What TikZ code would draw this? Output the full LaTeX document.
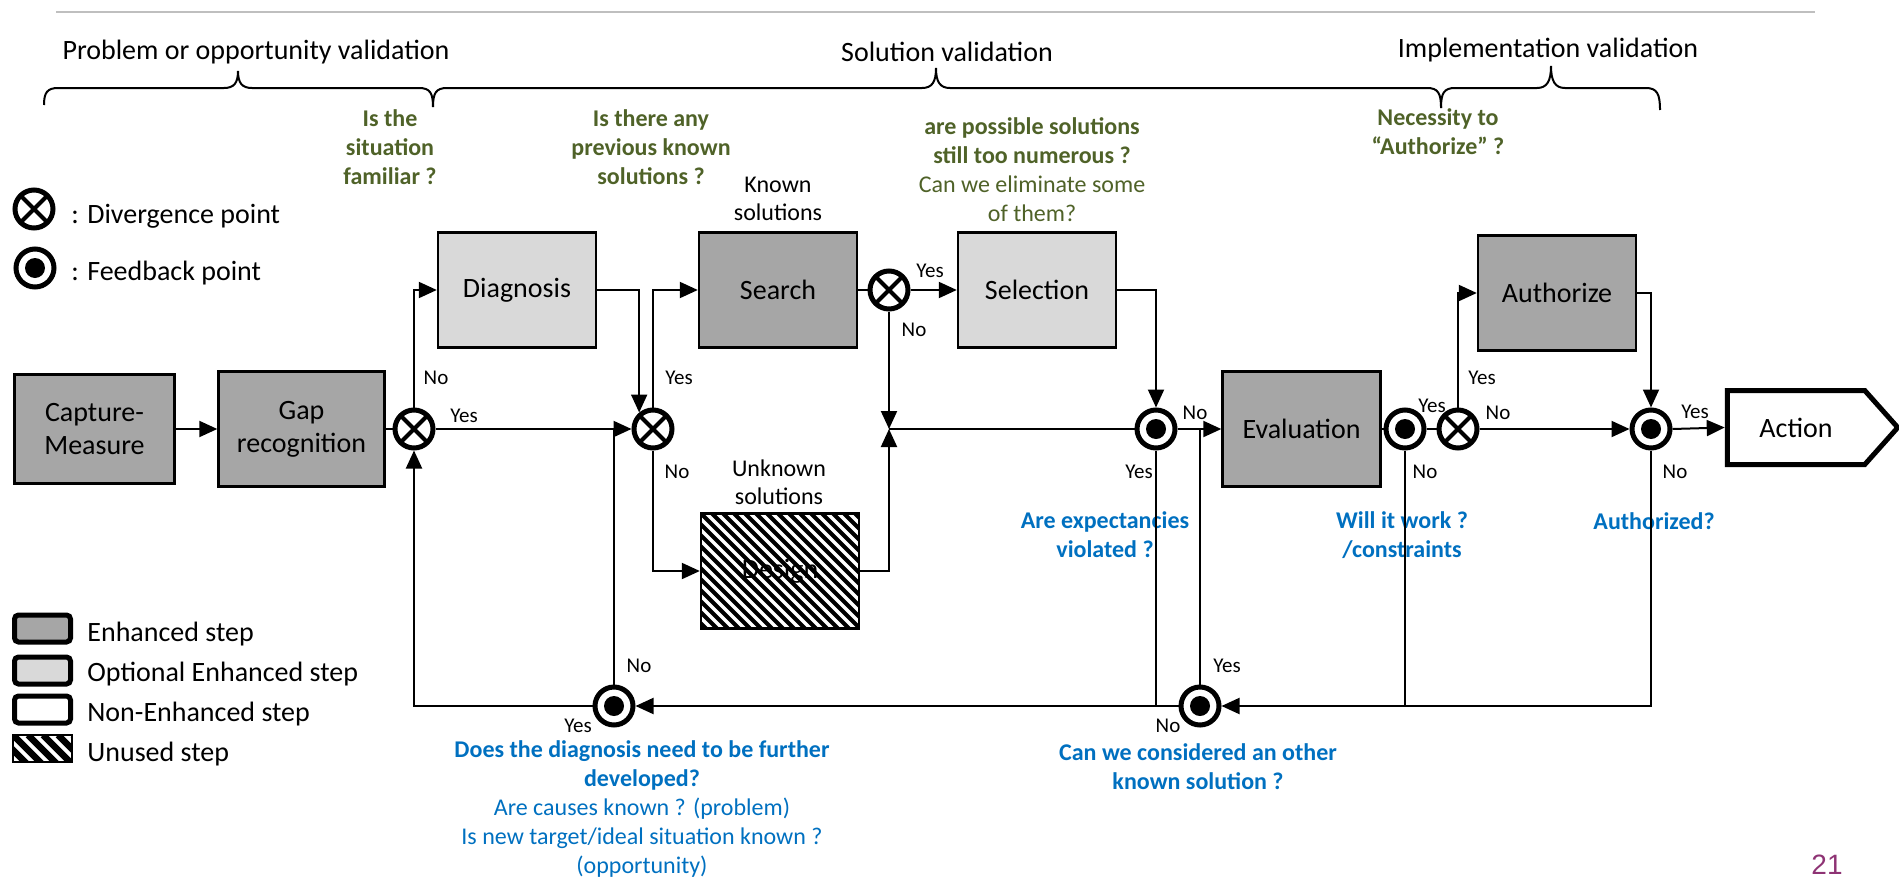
\documentclass[tikz,border=0pt]{standalone}
\usepackage{fontspec}
\setmainfont{Carlito}
\newfontfamily\numfont{Liberation Sans}
\usetikzlibrary{arrows.meta}
\definecolor{qgreen}{HTML}{4F6228}
\definecolor{qblue}{HTML}{0070C0}
\definecolor{enhgray}{HTML}{A6A6A6}
\definecolor{optgray}{HTML}{D9D9D9}
\definecolor{pagepurple}{HTML}{8E3374}
\definecolor{rulegray}{HTML}{BFBFBF}
\begin{document}
\begin{tikzpicture}[x=0.5pt,y=-0.5pt,
  box/.style={draw, line width=1.2pt, inner sep=0pt, align=center, font=\fontsize{14}{16.5}\selectfont},
  stdbox/.style={box, minimum width=79pt, minimum height=57.5pt},
  enhbox/.style={stdbox, fill=enhgray},
  optbox/.style={stdbox, fill=optgray},
  stripe/.style={black, line width=2.1pt},
  div/.style={circle, draw, line width=2.5pt, fill=white, minimum size=19pt, inner sep=0pt, path picture={
      \draw[black, line width=2pt] ([shift={(45:12pt)}]path picture bounding box.center) -- ([shift={(225:12pt)}]path picture bounding box.center)
                            ([shift={(135:12pt)}]path picture bounding box.center) -- ([shift={(-45:12pt)}]path picture bounding box.center);}},
  fb/.style={circle, draw, line width=2.5pt, fill=white, minimum size=19pt, inner sep=0pt, path picture={
      \fill[black] (path picture bounding box.center) circle (5pt);}},
  conn/.style={line width=1pt},
  arr/.style={conn, -{Triangle[length=9pt,width=8pt]}},
  yn/.style={font=\fontsize{10.5}{12}\selectfont, inner sep=0pt},
  qg/.style={text=qgreen, align=center, font=\fontsize{12}{14.5}\selectfont\bfseries, inner sep=0pt},
  qb/.style={text=qblue, align=center, font=\fontsize{12}{14.5}\selectfont, inner sep=0pt},
  plain/.style={align=center, font=\fontsize{12}{14}\selectfont, inner sep=0pt},
  hdr/.style={font=\fontsize{14}{17}\selectfont, inner sep=0pt},
  legtxt/.style={anchor=base west, font=\fontsize{14}{17}\selectfont, inner sep=0pt},
  legbox/.style={draw, line width=2.5pt, rounded corners=2pt, minimum width=28pt, minimum height=13.5pt, inner sep=0pt},
  brace/.style={line width=1pt}
]
\useasboundingbox (0,0) rectangle (1899,878);

% top rule
\draw[rulegray, line width=1pt] (56,12) -- (1815,12);

% headers and braces
\node[hdr] (h1) at (256,52) {Problem or opportunity validation};
\node[hdr] (h2) at (947,52) {Solution validation};
\node[hdr] (h3) at (1548,50) {Implementation validation};
\draw[brace] (44,105) .. controls (44,93) and (47,88) .. (58,88) -- (224,88) .. controls (234,88) and (238,83) .. (238,71) .. controls (238,83) and (242,88) .. (252,88) -- (419,88) .. controls (430,88) and (433,93) .. (433,107);
\draw[brace] (433,107) .. controls (433,93) and (436,88) .. (447,88) -- (922,88) .. controls (932,88) and (936,82) .. (936,68) .. controls (936,82) and (940,88) .. (950,88) -- (1427,88) .. controls (1438,88) and (1441,93) .. (1441,108);
\draw[brace] (1441,108) .. controls (1441,93) and (1444,88) .. (1455,88) -- (1537,88) .. controls (1547,88) and (1551,81) .. (1551,66) .. controls (1551,81) and (1555,88) .. (1565,88) -- (1646,88) .. controls (1657,88) and (1660,94) .. (1660,110);

% green questions
\node[qg] (q1) at (390,147) {Is the\\situation\\familiar ?};
\node[qg] (q2) at (651,147) {Is there any\\previous known\\solutions ?};
\node[qg] (q3) at (1032,170) {are possible solutions\\still too numerous ?\\{\mdseries Can we eliminate some}\\{\mdseries of them?}};
\node[qg] (q4) at (1438,132) {Necessity to\\“Authorize” ?};

% black small texts
\node[plain] (known) at (778,199) {Known\\solutions};
\node[plain] (unknown) at (779,482) {Unknown\\solutions};

% blue questions
\node[qb] (b1) at (642,809) {\textbf{Does the diagnosis need to be further}\\\textbf{developed?}\\Are causes known ? (problem)\\Is new target/ideal situation known ?\\(opportunity)};
\node[qb, font=\fontsize{12}{14.5}\selectfont\bfseries] (b2) at (1198,767) {Can we considered an other\\known solution ?};
\node[qb, font=\fontsize{12}{14.5}\selectfont\bfseries] (b3) at (1105,535) {Are expectancies\\violated ?};
\node[qb, font=\fontsize{12}{14.5}\selectfont\bfseries] (b4) at (1402,535) {Will it work ?\\/constraints};
\node[qb, font=\fontsize{12}{14.5}\selectfont\bfseries] (b5) at (1654,521) {Authorized?};

% legend
\node[div] (legdiv) at (34,209) {};
\node[fb] (legfb) at (35,268) {};
\node[legtxt] (legdivt) at (71,223) {: Divergence point};
\node[legtxt] (legfbt) at (71,280) {: Feedback point};
\node[legbox, fill=enhgray] (lg1) at (42.5,628.5) {};
\node[legbox, fill=optgray] (lg2) at (42.5,670.5) {};
\node[legbox, fill=white] (lg3) at (42.5,709.5) {};
\begin{scope}
  \clip (13,735) rectangle (72,762);
  \foreach \i in {-3,...,5}{\draw[stripe, line width=3.2pt] ({13+\i*15},735) -- ++(30,30);}
\end{scope}
\node[draw, line width=0.6pt, minimum width=29.5pt, minimum height=13.5pt, inner sep=0pt] (lg4) at (42.5,748.5) {};
\node[legtxt] (lg1t) at (87,641) {Enhanced step};
\node[legtxt] (lg2t) at (87,681) {Optional Enhanced step};
\node[legtxt] (lg3t) at (87,721) {Non-Enhanced step};
\node[legtxt] (lg4t) at (87,761) {Unused step};

% boxes
\node[box, fill=enhgray, minimum width=80pt, minimum height=54.5pt] (cap) at (94.5,429) {Capture-\\Measure};
\node[box, fill=enhgray, minimum width=83pt, minimum height=57.5pt] (gap) at (301.5,429) {Gap\\recognition};
\node[optbox] (diag) at (517,290) {Diagnosis};
\node[enhbox] (search) at (778,290) {Search};
\begin{scope}
  \clip (701,513.5) rectangle (859,628.5);
  \foreach \i in {-12,...,15}{\draw[stripe] ({701+\i*11},513.5) -- ++(120,120);}
\end{scope}
\node[stdbox] (design) at (780,571) {Design};
\node[optbox] (sel) at (1037,290) {Selection};
\node[enhbox] (eval) at (1301.5,429) {Evaluation};
\node[enhbox] (auth) at (1557,293) {Authorize};
\node[font=\fontsize{14}{17}\selectfont, minimum width=68.75pt, minimum height=37pt, inner sep=0pt, outer sep=0pt] (action) at (1796,427.5) {Action};
\draw[line width=2.5pt, line join=miter] (action.north west) -- (action.north east) -- ([xshift=16.5pt]action.east) -- (action.south east) -- (action.south west) -- cycle;

% decision / feedback points
\node[div] (d1) at (414,429) {};
\node[div] (d2) at (653,429) {};
\node[div] (d3) at (889,290) {};
\node[div] (d4) at (1458,429) {};
\node[fb] (f1) at (614,706) {};
\node[fb] (f2) at (1156,429) {};
\node[fb] (f3) at (1200,706) {};
\node[fb] (f4) at (1405,429) {};
\node[fb] (f5) at (1651,429) {};
\coordinate (j1) at (889,429);
\coordinate (j2) at (1200,429);
\coordinate (j3) at (614,429);

% connectors
\draw[arr] (cap.east) -- (gap.west);
\draw[conn] (gap.east) -- (d1.west);
\draw[arr] (d1.north) |- (diag.west);
\draw[arr] (d1.east) -- (d2.west);
\draw[arr] (diag.east) -| (d2.130);
\draw[arr] (d2.north) |- (search.west);
\draw[arr] (d2.south) |- (design.west);
\draw[conn] (search.east) -- (d3.west);
\draw[arr] (d3.east) -- (sel.west);
\draw[arr] (d3.south) -- (j1);
\draw[arr] (design.east) -| (j1);
\draw[conn] (j1) -- (f2.west);
\draw[arr] (sel.east) -| (f2.north);
\draw[arr] (f2.east) -- (eval.west);
\draw[conn] (eval.east) -- (f4.west);
\draw[conn] (f4.east) -- (d4.west);
\draw[arr] (d4.north) |- (auth.west);
\draw[arr] (d4.east) -- (f5.west);
\draw[arr] (auth.east) -| (f5.north);
\draw[arr] (f5.east) -- ([xshift=-1.25pt]action.west);
\draw[arr] (f5.south) |- (f3.east);
\draw[conn] (f4.south) -- (f4.south |- f3.center);
\draw[arr] (f3.west) -- (f1.east);
\draw[conn] (f2.south) -- (f2.south |- f3.center);
\draw[conn] (f3.north) -- (j2);
\draw[conn] (f1.north) -- (j3);
\draw[arr] (f1.west) -| (d1.south);

% yes / no labels
\node[yn] (l1) at (436,378) {No};
\node[yn] (l2) at (464,416) {Yes};
\node[yn] (l3) at (679,378) {Yes};
\node[yn] (l4) at (677,472) {No};
\node[yn] (l5) at (930,271) {Yes};
\node[yn] (l6) at (914,330) {No};
\node[yn] (l7) at (639,666) {No};
\node[yn] (l8) at (578,726) {Yes};
\node[yn] (l9) at (1195,413) {No};
\node[yn] (l10) at (1139,472) {Yes};
\node[yn] (l11) at (1227,666) {Yes};
\node[yn] (l12) at (1168,726) {No};
\node[yn] (l13) at (1432,406) {Yes};
\node[yn] (l14) at (1425,472) {No};
\node[yn] (l15) at (1482,378) {Yes};
\node[yn] (l16) at (1498,413) {No};
\node[yn] (l17) at (1695,412) {Yes};
\node[yn] (l18) at (1675,472) {No};

% page number
\node[text=pagepurple, font=\numfont\fontsize{14}{17}\selectfont, inner sep=0pt] (pnum) at (1827,865) {21};
\end{tikzpicture}
\end{document}
